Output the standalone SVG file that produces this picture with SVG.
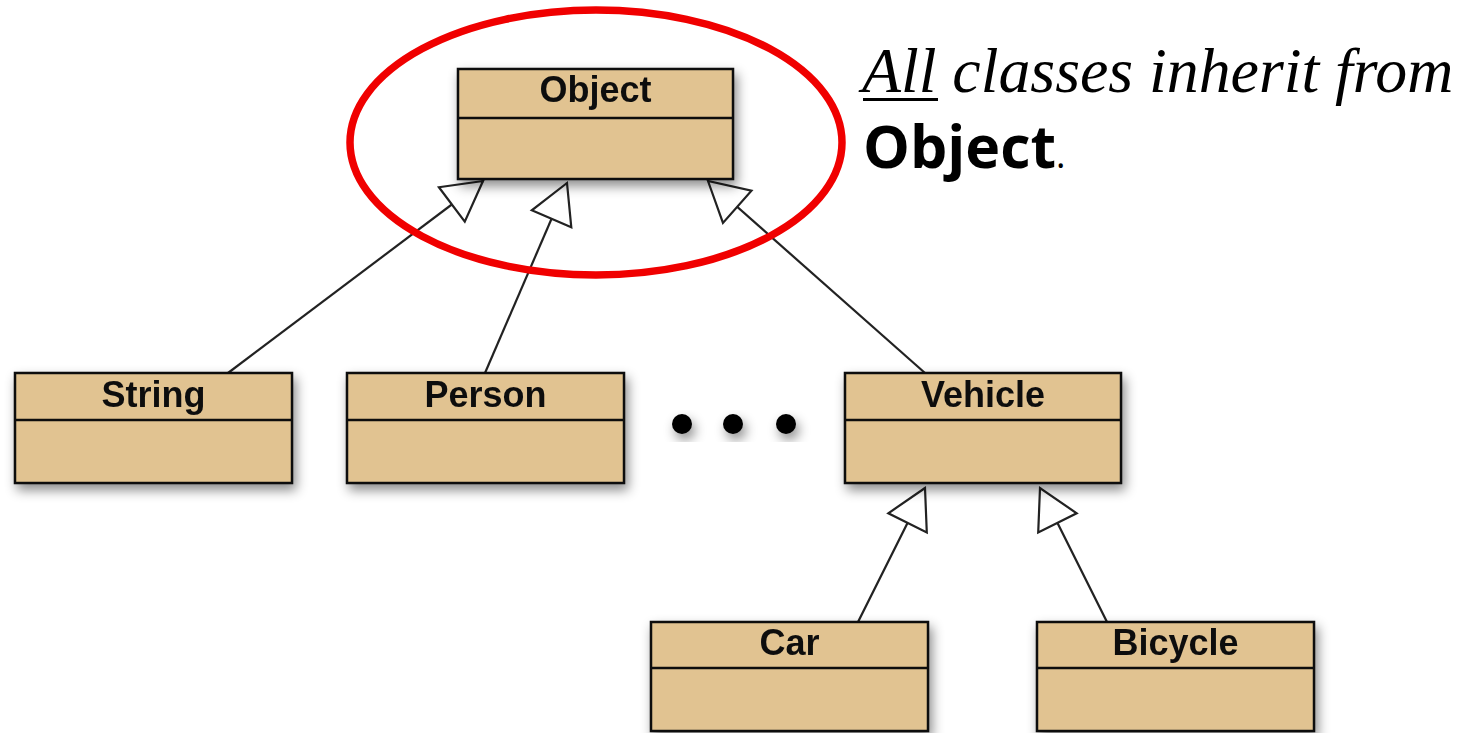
<svg xmlns="http://www.w3.org/2000/svg" width="1476" height="733" viewBox="0 0 1476 733">
<defs>
<filter id="sh" x="-20%" y="-20%" width="140%" height="160%">
<feDropShadow dx="3" dy="6" stdDeviation="6" flood-color="#000" flood-opacity="0.45"/>
</filter>
<marker id="tri" markerUnits="userSpaceOnUse" markerWidth="50" markerHeight="50" viewBox="-44 -25 50 50" refX="0" refY="0" orient="auto">
<path d="M0,0 L-39,-21.5 L-39,21.5 Z" fill="#fff" stroke="#222" stroke-width="2.2" stroke-linejoin="miter"/>
</marker>
<style>
.box{fill:#E1C391;stroke:#111;stroke-width:2.5}
.div{stroke:#111;stroke-width:2.5}
.lbl{font-family:"Liberation Sans",Arial,sans-serif;font-weight:bold;font-size:36px;fill:#111;text-anchor:middle}
.con{stroke:#222;stroke-width:2.2;fill:none;marker-end:url(#tri)}
</style>
</defs>
<rect width="1476" height="733" fill="#fff"/>
<g id="connectors">
<line class="con" x1="228" y1="373" x2="483" y2="181"/>
<line class="con" x1="485" y1="373" x2="567" y2="183"/>
<line class="con" x1="925" y1="373" x2="708" y2="181"/>
<line class="con" x1="858" y1="622" x2="925" y2="488"/>
<line class="con" x1="1107" y1="622" x2="1040" y2="488"/>
</g>
<g id="node-object" filter="url(#sh)">
<rect class="box" x="458" y="69" width="275" height="110"/>
<line class="div" x1="458" y1="118" x2="733" y2="118"/>
<text class="lbl" x="595.5" y="102">Object</text>
</g>
<g id="node-string" filter="url(#sh)">
<rect class="box" x="15" y="373" width="277" height="110"/>
<line class="div" x1="15" y1="420" x2="292" y2="420"/>
<text class="lbl" x="153.5" y="407">String</text>
</g>
<g id="node-person" filter="url(#sh)">
<rect class="box" x="347" y="373" width="277" height="110"/>
<line class="div" x1="347" y1="420" x2="624" y2="420"/>
<text class="lbl" x="485.5" y="407">Person</text>
</g>
<g id="node-vehicle" filter="url(#sh)">
<rect class="box" x="845" y="373" width="276" height="110"/>
<line class="div" x1="845" y1="420" x2="1121" y2="420"/>
<text class="lbl" x="983" y="407">Vehicle</text>
</g>
<g id="node-car" filter="url(#sh)">
<rect class="box" x="651" y="622" width="277" height="109"/>
<line class="div" x1="651" y1="668" x2="928" y2="668"/>
<text class="lbl" x="789.5" y="655">Car</text>
</g>
<g id="node-bicycle" filter="url(#sh)">
<rect class="box" x="1037" y="622" width="277" height="109"/>
<line class="div" x1="1037" y1="668" x2="1314" y2="668"/>
<text class="lbl" x="1175.5" y="655">Bicycle</text>
</g>
<g id="ellipsis" filter="url(#sh)" fill="#000">
<circle cx="682" cy="424" r="10"/>
<circle cx="733" cy="424" r="10"/>
<circle cx="786" cy="424" r="10"/>
</g>
<ellipse id="highlight" cx="596" cy="142.5" rx="246" ry="132.5" fill="none" stroke="#F00000" stroke-width="7.5"/>
<g id="caption">
<text x="862" y="92" font-family="'Liberation Serif','Times New Roman',serif" font-style="italic" font-size="63.8" fill="#000">All classes inherit from</text>
<line x1="863" y1="99.5" x2="938" y2="99.5" stroke="#000" stroke-width="3"/>
<text x="863" y="168" font-family="'Open Sans','Noto Sans',sans-serif" font-weight="bold" font-size="59" fill="#000">Object<tspan font-weight="normal" font-size="36">.</tspan></text>
</g>
</svg>
